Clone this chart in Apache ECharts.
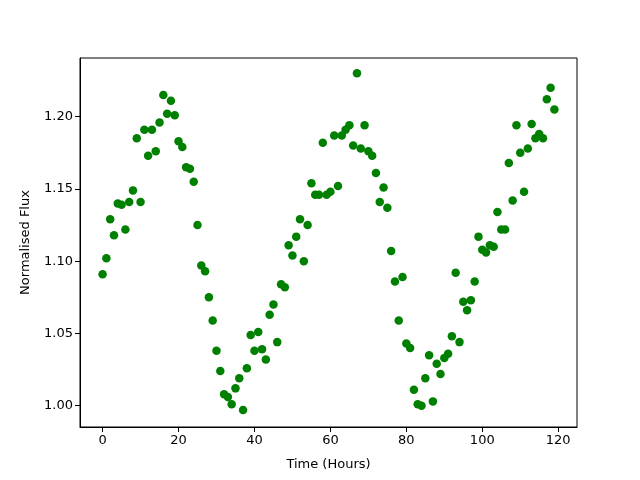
<!DOCTYPE html>
<html>
<head>
<meta charset="utf-8">
<script src="https://cdn.jsdelivr.net/npm/echarts@6/dist/echarts.min.js"></script>
<style>html,body{margin:0;padding:0;background:#fff}#c{width:640px;height:480px}</style>
</head>
<body>
<div id="c"></div>
<script>
const hours = [0,1,2,3,4,5,6,7,8,9,10,11,12,13,14,15,16,17,18,19,20,21,22,23,24,25,26,27,28,29,30,31,32,33,34,35,36,37,38,39,40,41,42,43,44,45,46,47,48,49,50,51,52,53,54,55,56,57,58,59,60,61,62,63,64,65,66,67,68,69,70,71,72,73,74,75,76,77,78,79,80,81,82,83,84,85,86,87,88,89,90,91,92,93,94,95,96,97,98,99,100,101,102,103,104,105,106,107,108,109,110,111,112,113,114,115,116,117,118,119];
const flux = [1.091,1.102,1.129,1.118,1.140,1.139,1.122,1.141,1.149,1.185,
1.141,1.191,1.173,1.191,1.176,1.196,1.215,1.202,1.211,1.201,
1.183,1.179,1.165,1.164,1.155,1.125,1.097,1.093,1.075,1.059,
1.038,1.024,1.008,1.006,1.001,1.012,1.019,0.997,1.026,1.049,
1.038,1.051,1.039,1.032,1.063,1.070,1.044,1.084,1.082,1.111,
1.104,1.117,1.129,1.100,1.125,1.154,1.146,1.146,1.182,1.146,
1.148,1.187,1.152,1.187,1.191,1.194,1.180,1.230,1.178,1.194,
1.176,1.173,1.161,1.141,1.151,1.137,1.107,1.086,1.059,1.089,
1.043,1.040,1.011,1.001,1.000,1.019,1.035,1.003,1.029,1.022,
1.033,1.036,1.048,1.092,1.044,1.072,1.066,1.073,1.086,1.117,
1.108,1.106,1.111,1.110,1.134,1.122,1.122,1.168,1.142,1.194,
1.175,1.148,1.178,1.195,1.185,1.188,1.185,1.212,1.220,1.205];
const xTicks = [0,20,40,60,80,100,120];
const yTicks = [1.00,1.05,1.10,1.15,1.20];

const chart = echarts.init(document.getElementById('c'), null, {renderer:'canvas'});
const font = 'DejaVu Sans';
chart.setOption({
  animation:false,
  grid:{left:80,top:58,right:63,bottom:53,show:true,borderColor:'#000',borderWidth:1,backgroundColor:'transparent'},
  xAxis:{type:'value',min:-5.95,max:124.95,
    name:'Time (Hours)',nameLocation:'middle',nameGap:31,
    nameTextStyle:{fontFamily:font,fontSize:13,color:'#000'},
    axisLine:{show:true,onZero:false,lineStyle:{color:'#000',width:1}},
    axisTick:{show:true,inside:false,length:5,customValues:xTicks,lineStyle:{color:'#000'}},
    axisLabel:{customValues:xTicks,fontFamily:font,fontSize:13,color:'#000',margin:7},
    splitLine:{show:false}},
  yAxis:{type:'value',min:0.98527,max:1.2406,
    name:'Normalised Flux',nameLocation:'middle',nameGap:48,
    nameTextStyle:{fontFamily:font,fontSize:13,color:'#000'},
    axisLine:{show:true,onZero:false,lineStyle:{color:'#000',width:1}},
    axisTick:{show:true,inside:false,length:5,customValues:yTicks,lineStyle:{color:'#000'}},
    axisLabel:{customValues:yTicks,fontFamily:font,fontSize:13,color:'#000',margin:7,formatter:v=>v.toFixed(2)},
    splitLine:{show:false}},
  series:[{type:'scatter',data:hours.map((h,i)=>[h,flux[i]]),symbol:'circle',symbolSize:8.5,
    itemStyle:{color:'#008000',opacity:1},silent:true}]
});
</script>
</body>
</html>
